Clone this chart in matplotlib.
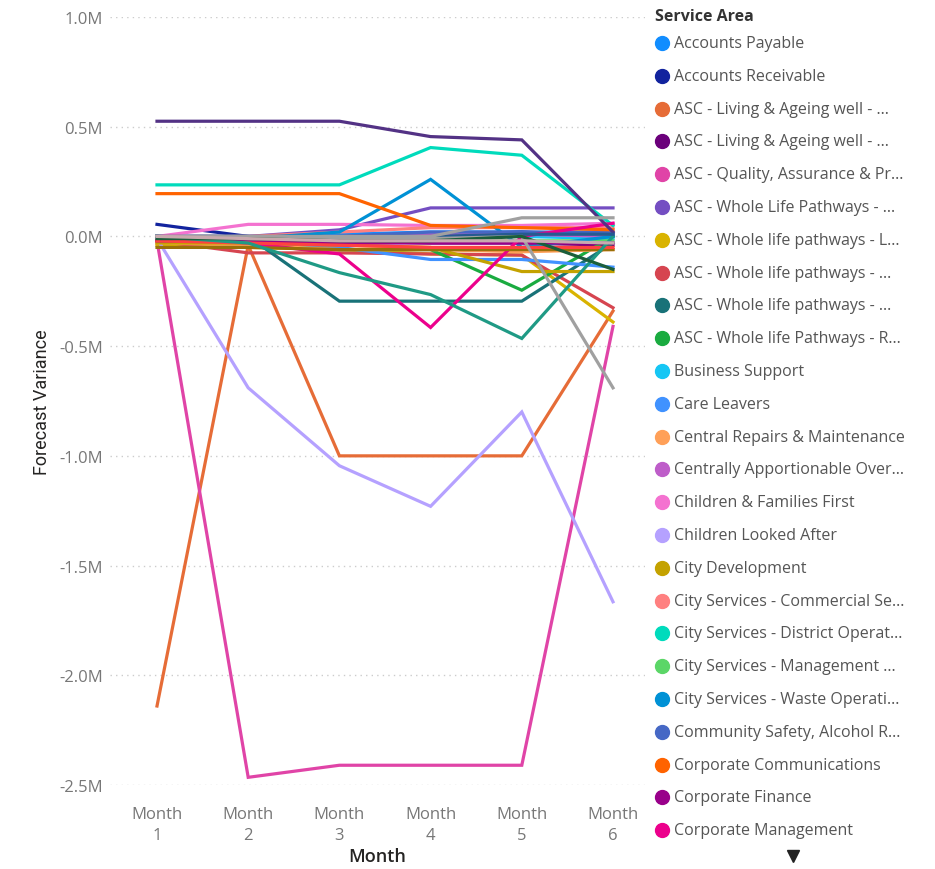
import matplotlib.pyplot as plt
from matplotlib.ticker import FuncFormatter
import numpy as np

plt.rcParams['font.family'] = ['Open Sans', 'DejaVu Sans']

months = ['Month\n1', 'Month\n2', 'Month\n3', 'Month\n4', 'Month\n5', 'Month\n6']

service_areas = [
    'Accounts Payable',
    'Accounts Receivable',
    'ASC - Living & Ageing well - ...',
    'ASC - Living & Ageing well - ...',
    'ASC - Quality, Assurance & Pr...',
    'ASC - Whole Life Pathways - ...',
    'ASC - Whole life pathways - L...',
    'ASC - Whole life pathways - ...',
    'ASC - Whole life pathways - ...',
    'ASC - Whole life Pathways - R...',
    'Business Support',
    'Care Leavers',
    'Central Repairs & Maintenance',
    'Centrally Apportionable Over...',
    'Children & Families First',
    'Children Looked After',
    'City Development',
    'City Services - Commercial Se...',
    'City Services - District Operat...',
    'City Services - Management ...',
    'City Services - Waste Operati...',
    'Community Safety, Alcohol R...',
    'Corporate Communications',
    'Corporate Finance',
    'Corporate Management',
]

area_colors = [
    '#118DFF', '#12239E', '#E66C37', '#6B007B', '#E044A7', '#744EC2',
    '#D9B300', '#D64550', '#197278', '#1AAB40', '#15C6F4', '#4092FF',
    '#FFA058', '#BE5DC9', '#F472D0', '#B5A1FF', '#C4A200', '#FF8080',
    '#00DBBC', '#5BD667', '#0091D5', '#4668C5', '#FF6300', '#99008A',
    '#EC008C',
]

# forecast variance by month, millions
accounts_payable = [0.0, -0.01, 0.01, 0.02, 0.02, 0.0]
accounts_receivable = [0.055, 0.0, -0.01, 0.01, 0.02, 0.01]
asc_ageing_a = [-2.14, -0.04, -1.0, -1.0, -1.0, -0.34]
asc_ageing_b = [0.0, -0.01, -0.02, -0.03, -0.03, -0.04]
asc_quality = [-0.02, -2.465, -2.41, -2.41, -2.41, -0.41]
asc_wlp_a = [0.0, 0.0, 0.03, 0.13, 0.13, 0.13]
asc_wlp_l = [-0.04, -0.05, -0.06, -0.08, -0.085, -0.39]
asc_wlp_b = [-0.02, -0.075, -0.075, -0.08, -0.085, -0.325]
asc_wlp_c = [0.0, 0.0, -0.295, -0.295, -0.295, -0.03]
asc_wlp_r = [0.0, -0.03, -0.06, -0.06, -0.245, 0.0]
business_support = [0.0, 0.0, 0.0, 0.0, 0.0, -0.01]
care_leavers = [-0.01, -0.02, -0.05, -0.105, -0.105, -0.14]
central_repairs = [-0.03, -0.04, -0.06, -0.06, -0.07, -0.06]
centrally_apportionable = [0.0, 0.0, 0.0, 0.01, 0.01, 0.0]
families_first = [0.0, 0.055, 0.055, 0.05, 0.05, 0.06]
looked_after = [-0.01, -0.69, -1.045, -1.23, -0.8, -1.665]
city_development = [-0.03, -0.03, -0.04, -0.05, -0.16, -0.16]
cs_commercial = [0.0, 0.0, 0.02, 0.04, 0.04, 0.04]
cs_district = [0.235, 0.235, 0.235, 0.405, 0.37, 0.05]
cs_management = [0.0, -0.01, -0.01, -0.02, -0.02, -0.02]
cs_waste = [0.0, -0.01, 0.02, 0.26, -0.05, 0.0]
community_safety = [0.0, -0.01, 0.0, 0.02, 0.02, 0.02]
corp_comms = [0.195, 0.195, 0.195, 0.05, 0.04, 0.03]
corp_finance = [-0.02, -0.02, -0.03, -0.03, -0.03, -0.03]
corp_management = [0.0, -0.03, -0.08, -0.415, 0.0, 0.06]

series = [
    accounts_payable, accounts_receivable, asc_ageing_a, asc_ageing_b,
    asc_quality, asc_wlp_a, asc_wlp_l, asc_wlp_b, asc_wlp_c, asc_wlp_r,
    business_support, care_leavers, central_repairs, centrally_apportionable,
    families_first, looked_after, city_development, cs_commercial,
    cs_district, cs_management, cs_waste, community_safety, corp_comms,
    corp_finance, corp_management,
]

# the rest of the areas (legend is scrolled, these aren't listed)
more_values = [
    [0.525, 0.525, 0.525, 0.455, 0.44, 0.02],
    [-0.05, -0.05, -0.06, -0.06, -0.06, -0.06],
    [-0.02, -0.03, -0.04, -0.05, -0.05, -0.05],
    [0.0, -0.03, -0.165, -0.265, -0.465, 0.0],
    [0.0, 0.0, 0.0, 0.0, 0.01, 0.01],
    [0.0, 0.0, 0.0, 0.0, 0.085, 0.085],
    [0.0, -0.01, -0.01, -0.01, 0.0, -0.69],
    [-0.01, -0.01, -0.02, -0.02, 0.0, -0.15],
    [0.0, -0.01, -0.02, -0.02, -0.02, -0.03],
]
more_colors = ['#533285', '#99700A', '#FF4141', '#1F9A85', '#255A91',
               '#A0A0A0', '#A0A0A0', '#1B5E3B', '#C9A9AE']

W, H = 935, 870
fig = plt.figure(figsize=(W / 100, H / 100), dpi=100)
ax = fig.add_axes([110 / W, (H - 786) / H, 535 / W, 768 / H])

x = np.arange(1, len(months) + 1)
for vals, col in zip(series, area_colors):
    ax.plot(x, vals, color=col, lw=2.3, solid_joinstyle='miter')
for vals, col in zip(more_values, more_colors):
    ax.plot(x, vals, color=col, lw=2.3, solid_joinstyle='miter')

ax.set_xlim(1 - 47 / 91.2, 6 + 32 / 91.2)
ax.set_ylim(-2.5, 1.0)
ax.set_yticks(np.arange(-2.5, 1.01, 0.5))
ax.yaxis.set_major_formatter(FuncFormatter(lambda v, p: f'{v:.1f}M'))
ax.set_xticks(x)
ax.set_xticklabels(months, linespacing=1.45)
ax.tick_params(length=0, labelsize=12, labelcolor='#777777')
ax.tick_params(axis='y', pad=5)
ax.tick_params(axis='x', pad=15)
ax.grid(axis='y', linestyle=(0, (1, 3)), color='#cccccc', lw=1)
ax.set_axisbelow(True)
for s in ax.spines.values():
    s.set_visible(False)

ax.set_xlabel('Month', fontsize=13, color='#252423', labelpad=3,
              fontweight='semibold')
ax.set_ylabel('Forecast Variance', fontsize=13, color='#252423', labelpad=6,
              family=['Liberation Sans Narrow', 'Roboto', 'DejaVu Sans'])

# legend panel in pixel coordinates
lax = fig.add_axes([0, 0, 1, 1])
lax.set_xlim(0, W)
lax.set_ylim(H, 0)
lax.axis('off')
lax.text(655, 17, 'Service Area', fontsize=11.5, fontweight='bold',
         color='#333333', va='center')
for i, (name, col) in enumerate(zip(service_areas, area_colors)):
    y = 44 + i * 32.8
    lax.plot(662, y, 'o', ms=10, color=col)
    lax.text(674, y, name, fontsize=11.5, color='#555555', va='center')
lax.plot(793, 857, 'v', ms=8, color='#222222')

fig.savefig('out.png', dpi=100)
